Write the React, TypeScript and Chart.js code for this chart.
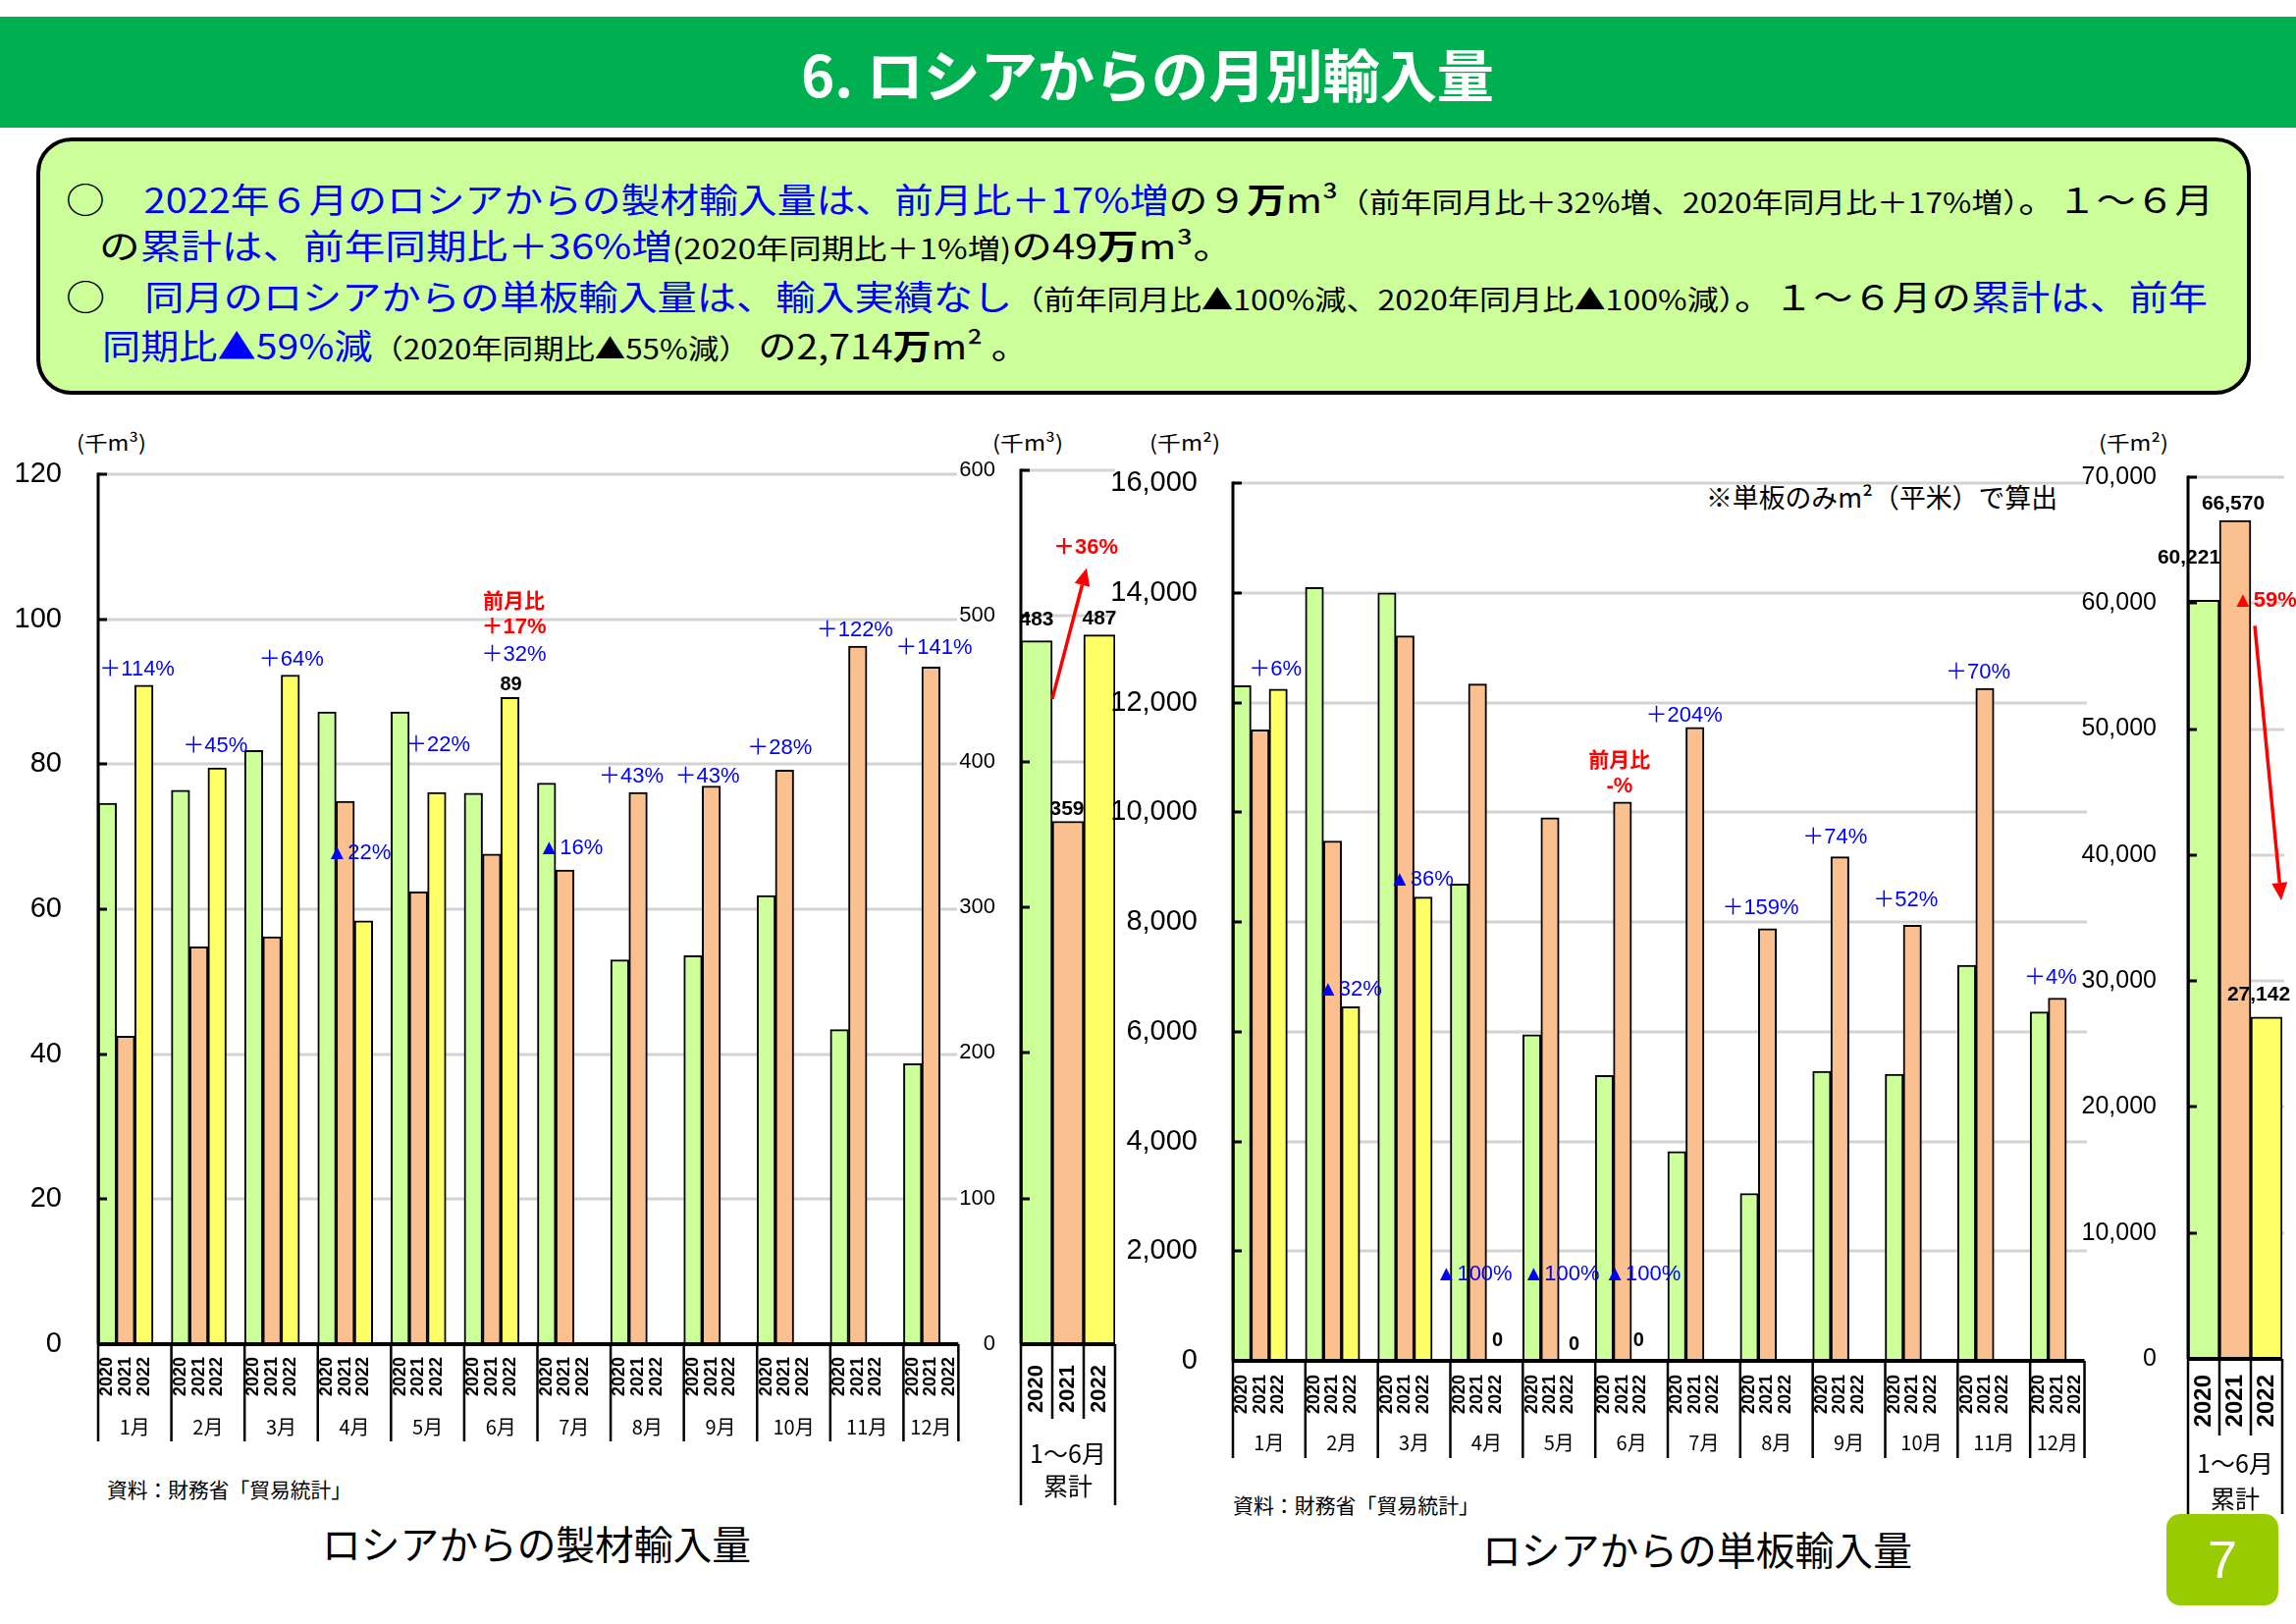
import React, { useEffect, useLayoutEffect, useRef } from "react";
import { Chart, registerables } from "chart.js";
Chart.register(...registerables);

// ---------------- data ----------------
const MONTHS = ["1月", "2月", "3月", "4月", "5月", "6月", "7月", "8月", "9月", "10月", "11月", "12月"];
const YEARS = ["2020", "2021", "2022"];
const CUM_LABEL = ["1～6月", "累計"];

// 製材 (千m3)
const SAWN_2020 = [74.6, 76.4, 81.9, 87.2, 87.2, 76.0, 77.4, 53.0, 53.6, 61.9, 43.4, 38.7];
const SAWN_2021 = [42.5, 54.8, 56.2, 74.9, 62.4, 67.6, 65.4, 76.1, 77.0, 79.2, 96.3, 93.4];
const SAWN_2022 = [90.9, 79.5, 92.3, 58.4, 76.1, 89.2, null, null, null, null, null, null];
const SAWN_CHANGE = ["＋114%", "＋45%", "＋64%", "▲22%", "＋22%", "＋32%", "▲16%", "＋43%", "＋43%", "＋28%", "＋122%", "＋141%"];
const SAWN_MOM = ["前月比", "＋17%"];
const SAWN_CUM = [483, 359, 487];
const SAWN_CUM_CHANGE = "＋36%";
const SAWN_AXIS = [0, 120, 20];
const SAWN_CUM_AXIS = [0, 600, 100];

// 単板 (千m2)
const VENEER_2020 = [12307, 14096, 14000, 8690, 5947, 5200, 3815, 3051, 5280, 5225, 7209, 6359];
const VENEER_2021 = [11502, 9476, 13214, 12339, 9898, 10185, 11546, 7879, 9188, 7942, 12256, 6613];
const VENEER_2022 = [12243, 6453, 8454, 0, 0, 0, null, null, null, null, null, null];
const VENEER_CHANGE = ["＋6%", "▲32%", "▲36%", "▲100%", "▲100%", "▲100%", "＋204%", "＋159%", "＋74%", "＋52%", "＋70%", "＋4%"];
const VENEER_MOM = ["前月比", "-%"];
const VENEER_CUM = [60221, 66570, 27142];
const VENEER_CUM_CHANGE = "▲59%";
const VENEER_AXIS = [0, 16000, 2000];
const VENEER_CUM_AXIS = [0, 70000, 10000];

// ---------------- styles ----------------
const GREEN = "#CCFF99";
const ORANGE = "#FAC090";
const YELLOW = "#FFFF66";
const BLUE = "#0000FF";
const RED = "#FF0000";
const LAT = "'Liberation Sans', Arial, 'Noto Sans CJK JP', sans-serif";
const JP = "'Noto Sans CJK JP', 'Noto Sans', sans-serif";
const BLUE_FONT = `22px ${LAT}`;
const RED_FONT = `bold 21px ${JP}`;
const RED_PCT_FONT = `bold 22px ${LAT}`;
const LBL_FONT = `bold 21px ${LAT}`;

// positions of annotations: [dataset, dx, dy]
const SAWN_POS = [[2, -7, -16], [2, -2, -22], [2, 1, -16], [2, -5, -69], [2, 1, -48], [2, 4, -43], [1, 6, -22], [1, -7, -16], [1, -4, -10], [1, -5, -22], [1, -3, -16], [1, 3, -19]];
const VENEER_POS = [[2, -3, -20], [2, -1, -18], [2, -2, -18], [2, -22, -88], [2, -7, -88], [2, 2, -88], [1, -11, -12], [1, -7, -21], [1, -5, -20], [1, -7, -25], [1, -7, -16], [1, -7, -21]];
const ZERO_POS = [[3, 2, -21], [4, 6, -17], [5, -2, -21]];

type Anchor = { ds: number; idx: number; edge?: "left" | "center" | "right"; dx?: number; value?: number };
type TextItem = { text: string; at: Anchor; dy: number; color: string; font: string };
type ArrowItem = { from: Anchor; to: Anchor; color: string };
type Decor = {
  mode: "monthly" | "cum";
  gridEnd?: number;
  yearFont: string;
  yearTop: number;
  monthY?: number;
  monthFont?: string;
  sepBottom: number;
  innerBottom?: number;
  cumY1?: number;
  cumY2?: number;
  texts: TextItem[];
  arrows: ArrowItem[];
};

function anchorPoint(chart: any, a: Anchor) {
  const el = chart.getDatasetMeta(a.ds).data[a.idx];
  const w = el.width;
  let x = el.x;
  if (a.edge === "left") x -= w / 2;
  else if (a.edge === "right") x += w / 2;
  x += a.dx || 0;
  const y = a.value !== undefined ? chart.scales.y.getPixelForValue(a.value) : el.y;
  return { x, y };
}

function line(ctx: CanvasRenderingContext2D, x1: number, y1: number, x2: number, y2: number) {
  ctx.beginPath();
  ctx.moveTo(x1, y1);
  ctx.lineTo(x2, y2);
  ctx.stroke();
}

function decorPlugin(d: Decor) {
  return {
    id: "decor",
    beforeDatasetsDraw(chart: any) {
      const { ctx, chartArea: a, scales } = chart;
      const y = scales.y;
      ctx.save();
      ctx.strokeStyle = "#D3D3D3";
      ctx.lineWidth = 3;
      y.ticks.forEach((t: any) => {
        if (t.value === y.min) return;
        const py = Math.round(y.getPixelForValue(t.value));
        line(ctx, a.left, py, d.gridEnd ?? a.right, py);
      });
      ctx.restore();
    },
    afterDatasetsDraw(chart: any) {
      const { ctx, chartArea: a, scales } = chart;
      const y = scales.y;
      ctx.save();
      ctx.strokeStyle = "#000";
      ctx.fillStyle = "#000";
      ctx.lineWidth = 3;
      y.ticks.forEach((t: any) => {
        const py = Math.round(y.getPixelForValue(t.value));
        line(ctx, a.left, py, a.left + 9, py);
      });
      line(ctx, a.left, a.top - 1.5, a.left, a.bottom);
      if (d.mode === "monthly") {
        const m0 = chart.getDatasetMeta(0).data;
        const w = m0[0].width;
        const lefts = m0.map((e: any) => e.x - w / 2);
        const end = lefts[lefts.length - 1] + 3 * w;
        ctx.lineWidth = 4;
        line(ctx, a.left, a.bottom, end, a.bottom);
        ctx.lineWidth = 2.5;
        [...lefts, end].forEach((x: number) => line(ctx, x, a.bottom, x, a.bottom + d.sepBottom));
        ctx.font = d.yearFont;
        ctx.textAlign = "right";
        ctx.textBaseline = "middle";
        lefts.forEach((l: number) =>
          YEARS.forEach((yr, k) => {
            ctx.save();
            ctx.translate(l + (k + 0.5) * w, a.bottom + d.yearTop);
            ctx.rotate(-Math.PI / 2);
            ctx.fillText(yr, 0, 0);
            ctx.restore();
          })
        );
        ctx.font = d.monthFont!;
        ctx.textAlign = "center";
        MONTHS.forEach((m, j) => {
          const r = j < MONTHS.length - 1 ? lefts[j + 1] : end;
          ctx.fillText(m, (lefts[j] + r) / 2, a.bottom + d.monthY!);
        });
      } else {
        const m = [0, 1, 2].map((i) => chart.getDatasetMeta(i).data[0]);
        const w = m[0].width;
        const L = m[0].x - w / 2;
        const R = m[2].x + w / 2;
        ctx.lineWidth = 4;
        line(ctx, L, a.bottom, R, a.bottom);
        ctx.lineWidth = 2.5;
        line(ctx, L, a.bottom, L, a.bottom + d.sepBottom);
        line(ctx, R, a.bottom, R, a.bottom + d.sepBottom);
        line(ctx, m[1].x - w / 2, a.bottom, m[1].x - w / 2, a.bottom + d.innerBottom!);
        line(ctx, m[2].x - w / 2, a.bottom, m[2].x - w / 2, a.bottom + d.innerBottom!);
        ctx.font = d.yearFont;
        ctx.textAlign = "right";
        ctx.textBaseline = "middle";
        m.forEach((e: any, k: number) => {
          ctx.save();
          ctx.translate(e.x, a.bottom + d.yearTop);
          ctx.rotate(-Math.PI / 2);
          ctx.fillText(YEARS[k], 0, 0);
          ctx.restore();
        });
        ctx.font = `25px ${JP}`;
        ctx.textAlign = "center";
        ctx.fillText(CUM_LABEL[0], (L + R) / 2, a.bottom + d.cumY1!);
        ctx.fillText(CUM_LABEL[1], (L + R) / 2, a.bottom + d.cumY2!);
      }
      ctx.restore();
    },
    afterDraw(chart: any) {
      const { ctx } = chart;
      ctx.save();
      d.arrows.forEach((ar) => {
        const p1 = anchorPoint(chart, ar.from);
        const p2 = anchorPoint(chart, ar.to);
        const ang = Math.atan2(p2.y - p1.y, p2.x - p1.x);
        const hl = 18, hw = 8;
        const bx = p2.x - hl * Math.cos(ang);
        const by = p2.y - hl * Math.sin(ang);
        ctx.strokeStyle = ar.color;
        ctx.fillStyle = ar.color;
        ctx.lineWidth = 3.5;
        line(ctx, p1.x, p1.y, bx, by);
        ctx.beginPath();
        ctx.moveTo(p2.x, p2.y);
        ctx.lineTo(bx + hw * Math.sin(ang), by - hw * Math.cos(ang));
        ctx.lineTo(bx - hw * Math.sin(ang), by + hw * Math.cos(ang));
        ctx.closePath();
        ctx.fill();
      });
      ctx.textAlign = "center";
      ctx.textBaseline = "middle";
      d.texts.forEach((t) => {
        const p = anchorPoint(chart, t.at);
        ctx.font = t.font;
        ctx.fillStyle = t.color;
        ctx.fillText(t.text, p.x, p.y + t.dy);
      });
      ctx.restore();
    },
  };
}

function barDs(label: string, data: (number | null)[], color: string) {
  return {
    label,
    data,
    backgroundColor: color,
    borderColor: "#000",
    borderWidth: 2,
    borderSkipped: "start",
    categoryPercentage: 1,
    barPercentage: 1,
  };
}

function makeConfig(o: {
  labels: string[];
  sets: (number | null)[][];
  spacer: boolean;
  axis: number[];
  tickSize: number;
  tickPad: number;
  axisW: number;
  padding: { top: number; right: number; bottom: number; left: number };
  comma: boolean;
  decor: Decor;
}) {
  const colors = [GREEN, ORANGE, YELLOW];
  const datasets: any[] = o.sets.map((s, i) => barDs(YEARS[i], s, colors[i]));
  if (o.spacer) {
    datasets.push({ label: "", data: o.labels.map(() => null), backgroundColor: "rgba(0,0,0,0)", borderWidth: 0, categoryPercentage: 1, barPercentage: 1 });
  }
  return {
    type: "bar",
    data: { labels: o.labels, datasets },
    options: {
      animation: false,
      responsive: false,
      maintainAspectRatio: false,
      events: [],
      layout: { padding: o.padding },
      plugins: { legend: { display: false }, tooltip: { enabled: false } },
      scales: {
        x: { display: false },
        y: {
          min: o.axis[0],
          max: o.axis[1],
          grid: { display: false, drawTicks: false },
          border: { display: false },
          ticks: {
            stepSize: o.axis[2],
            color: "#000",
            padding: o.tickPad,
            font: { family: LAT, size: o.tickSize },
            callback: (v: any) => (o.comma ? Number(v).toLocaleString("en-US") : String(v)),
          },
          afterFit: (s: any) => {
            s.width = o.axisW;
          },
        },
      },
    },
    plugins: [decorPlugin(o.decor)],
  };
}

function ChartCanvas({ left, top, width, height, build }: any) {
  const ref = useRef<HTMLCanvasElement>(null);
  useEffect(() => {
    const chart = new Chart(ref.current as HTMLCanvasElement, build());
    return () => chart.destroy();
  }, []);
  return <canvas ref={ref} width={width} height={height} style={{ position: "absolute", left, top, width, height }} />;
}

function Fit({ x, cy, w, size, children, style }: any) {
  const ref = useRef<HTMLDivElement>(null);
  useLayoutEffect(() => {
    const el = ref.current as HTMLDivElement;
    const apply = () => {
      el.style.transform = "none";
      const nat = el.getBoundingClientRect().width;
      if (nat > 0) el.style.transform = `scaleX(${w / nat})`;
    };
    apply();
    const f: any = (document as any).fonts;
    if (f && f.ready) f.ready.then(apply);
  }, [w]);
  const h = Math.round(size * 1.4);
  return (
    <div
      ref={ref}
      style={{
        position: "absolute",
        left: x,
        top: cy - h / 2,
        height: h,
        lineHeight: `${h}px`,
        fontSize: size,
        width: "max-content",
        whiteSpace: "nowrap",
        transformOrigin: "0 0",
        fontFamily: JP,
        color: "#000",
        ...style,
      }}
    >
      {children}
    </div>
  );
}

const blue = (s: string) => <span style={{ color: BLUE }}>{s}</span>;
const small = (s: string) => <span style={{ fontSize: 28 }}>{s}</span>;
const bold = (s: string) => <span style={{ fontWeight: 700 }}>{s}</span>;

export default function App() {
  const sawnTexts: TextItem[] = [
    ...SAWN_CHANGE.map((t, i) => ({ text: t, at: { ds: SAWN_POS[i][0], idx: i, dx: SAWN_POS[i][1] }, dy: SAWN_POS[i][2], color: BLUE, font: BLUE_FONT })),
    { text: SAWN_MOM[0], at: { ds: 2, idx: 5, dx: 4 }, dy: -99, color: RED, font: RED_FONT },
    { text: SAWN_MOM[1], at: { ds: 2, idx: 5, dx: 4 }, dy: -71, color: RED, font: RED_PCT_FONT },
    { text: String(Math.round(SAWN_2022[5] as number)), at: { ds: 2, idx: 5, dx: 1 }, dy: -13, color: "#000", font: `bold 20px ${LAT}` },
  ];
  const veneerTexts: TextItem[] = [
    ...VENEER_CHANGE.map((t, i) => ({ text: t, at: { ds: VENEER_POS[i][0], idx: i, dx: VENEER_POS[i][1] }, dy: VENEER_POS[i][2], color: BLUE, font: BLUE_FONT })),
    ...ZERO_POS.map((p) => ({ text: String(VENEER_2022[p[0]]), at: { ds: 2, idx: p[0], dx: p[1] }, dy: p[2], color: "#000", font: `bold 20px ${LAT}` })),
    { text: VENEER_MOM[0], at: { ds: 1, idx: 5, dx: -3 }, dy: -44, color: RED, font: RED_FONT },
    { text: VENEER_MOM[1], at: { ds: 1, idx: 5, dx: -3 }, dy: -16, color: RED, font: RED_PCT_FONT },
  ];
  const sawnCumDy = [[0, -21], [-1, -12], [0, -16]];
  const sawnCumTexts: TextItem[] = [
    ...SAWN_CUM.map((v, i) => ({ text: String(v), at: { ds: i, idx: 0, dx: sawnCumDy[i][0] }, dy: sawnCumDy[i][1], color: "#000", font: LBL_FONT })),
    { text: SAWN_CUM_CHANGE, at: { ds: 1, idx: 0, edge: "right", dx: 2, value: 547 }, dy: 0, color: RED, font: RED_PCT_FONT },
  ];
  const venCumDy = [[-15, -43], [-2, -17], [-8, -23]];
  const venCumTexts: TextItem[] = [
    ...VENEER_CUM.map((v, i) => ({ text: v.toLocaleString("en-US"), at: { ds: i, idx: 0, dx: venCumDy[i][0] }, dy: venCumDy[i][1], color: "#000", font: LBL_FONT })),
    { text: VENEER_CUM_CHANGE, at: { ds: 1, idx: 0, edge: "right", dx: 14, value: 60200 }, dy: 0, color: RED, font: RED_PCT_FONT },
  ];

  return (
    <div style={{ position: "absolute", left: 0, top: 0, width: 2339, height: 1654, background: "#fff", overflow: "hidden", fontFamily: JP }}>
      {/* header */}
      <div style={{ position: "absolute", left: 0, top: 17, width: 2339, height: 113, background: "#00B050" }} />
      <Fit x={816} cy={74} w={706} size={58} style={{ color: "#fff", fontWeight: 700 }}>
        6. ロシアからの月別輸入量
      </Fit>

      {/* summary box */}
      <div
        style={{
          position: "absolute",
          left: 37,
          top: 140,
          width: 2256,
          height: 262,
          boxSizing: "border-box",
          background: "#CCFF99",
          border: "4px solid #000",
          borderRadius: 36,
        }}
      />
      <Fit x={67} cy={201} w={2188} size={35}>
        ○　{blue("2022年６月のロシアからの製材輸入量は、前月比＋17%増")}の９{bold("万")}m³{small("（前年同月比＋32%増、2020年同月比＋17%増）")}。１～６月
      </Fit>
      <Fit x={101} cy={248} w={1156} size={35}>
        の{blue("累計は、前年同期比＋36%増")}{small("(2020年同期比＋1%増)")}の49{bold("万")}m³。
      </Fit>
      <Fit x={67} cy={300} w={2182} size={35}>
        ○　{blue("同月のロシアからの単板輸入量は、輸入実績なし")}{small("（前年同月比▲100%減、2020年同月比▲100%減）")}。１～６月の{blue("累計は、前年")}
      </Fit>
      <Fit x={104} cy={350} w={945} size={35}>
        {blue("同期比▲59%減")}{small("（2020年同期比▲55%減）")} の2,714{bold("万")}m² 。
      </Fit>

      {/* unit labels */}
      <Fit x={78} cy={450} w={71} size={21}>(千m³)</Fit>
      <Fit x={1011} cy={450} w={72} size={21}>(千m³)</Fit>
      <Fit x={1171} cy={450} w={72} size={21}>(千m²)</Fit>
      <Fit x={2138} cy={450} w={71} size={21}>(千m²)</Fit>
      <Fit x={1738} cy={506} w={358} size={27}>※単板のみm²（平米）で算出</Fit>

      {/* charts */}
      <ChartCanvas
        left={0}
        top={400}
        width={1000}
        height={1100}
        build={() =>
          makeConfig({
            labels: MONTHS,
            sets: [SAWN_2020, SAWN_2021, SAWN_2022],
            spacer: true,
            axis: SAWN_AXIS,
            tickSize: 29,
            tickPad: 37,
            axisW: 100,
            padding: { top: 83, right: 5, bottom: 131, left: 0 },
            comma: false,
            decor: { mode: "monthly", gridEnd: 975, yearFont: `bold 18px ${LAT}`, yearTop: 13, monthY: 84, monthFont: `20px ${JP}`, sepBottom: 99, texts: sawnTexts, arrows: [] },
          })
        }
      />
      <ChartCanvas
        left={960}
        top={400}
        width={200}
        height={1150}
        build={() =>
          makeConfig({
            labels: ["cum"],
            sets: [[SAWN_CUM[0]], [SAWN_CUM[1]], [SAWN_CUM[2]]],
            spacer: false,
            axis: SAWN_CUM_AXIS,
            tickSize: 22,
            tickPad: 26,
            axisW: 80,
            padding: { top: 79, right: 24, bottom: 181, left: 0 },
            comma: false,
            decor: {
              mode: "cum",
              yearFont: `bold 22px ${LAT}`,
              yearTop: 21,
              sepBottom: 164,
              innerBottom: 76,
              cumY1: 111,
              cumY2: 144,
              texts: sawnCumTexts,
              arrows: [{ from: { ds: 0, idx: 0, edge: "right", dx: 0, value: 443 }, to: { ds: 1, idx: 0, edge: "right", dx: 3, value: 533 }, color: RED }],
            },
          })
        }
      />
      <ChartCanvas
        left={1130}
        top={400}
        width={1012}
        height={1100}
        build={() =>
          makeConfig({
            labels: MONTHS,
            sets: [VENEER_2020, VENEER_2021, VENEER_2022],
            spacer: true,
            axis: VENEER_AXIS,
            tickSize: 29,
            tickPad: 36,
            axisW: 126,
            padding: { top: 92, right: 0, bottom: 114, left: 0 },
            comma: true,
            decor: { mode: "monthly", gridEnd: 996, yearFont: `bold 18px ${LAT}`, yearTop: 14, monthY: 83, monthFont: `20px ${JP}`, sepBottom: 99, texts: veneerTexts, arrows: [] },
          })
        }
      />
      <ChartCanvas
        left={2100}
        top={400}
        width={239}
        height={1160}
        build={() =>
          makeConfig({
            labels: ["cum"],
            sets: [[VENEER_CUM[0]], [VENEER_CUM[1]], [VENEER_CUM[2]]],
            spacer: false,
            axis: VENEER_CUM_AXIS,
            tickSize: 25,
            tickPad: 32,
            axisW: 129,
            padding: { top: 86, right: 14, bottom: 176, left: 0 },
            comma: true,
            decor: {
              mode: "cum",
              gridEnd: 227,
              yearFont: `bold 24px ${LAT}`,
              yearTop: 16,
              sepBottom: 158,
              innerBottom: 78,
              cumY1: 106,
              cumY2: 142,
              texts: venCumTexts,
              arrows: [{ from: { ds: 1, idx: 0, edge: "right", dx: 4, value: 58200 }, to: { ds: 2, idx: 0, edge: "right", dx: -1, value: 36400 }, color: RED }],
            },
          })
        }
      />

      {/* sources and titles */}
      <Fit x={109} cy={1516} w={249} size={21}>資料：財務省「貿易統計」</Fit>
      <Fit x={1256} cy={1532} w={251} size={21}>資料：財務省「貿易統計」</Fit>
      <Fit x={328} cy={1571} w={437} size={40}>ロシアからの製材輸入量</Fit>
      <Fit x={1510} cy={1577} w={438} size={40}>ロシアからの単板輸入量</Fit>

      {/* page badge */}
      <div
        style={{
          position: "absolute",
          left: 2207,
          top: 1542,
          width: 114,
          height: 93,
          background: "#99CC00",
          borderRadius: 14,
          color: "#fff",
          fontFamily: LAT,
          fontSize: 54,
          lineHeight: "93px",
          textAlign: "center",
        }}
      >
        7
      </div>
    </div>
  );
}
